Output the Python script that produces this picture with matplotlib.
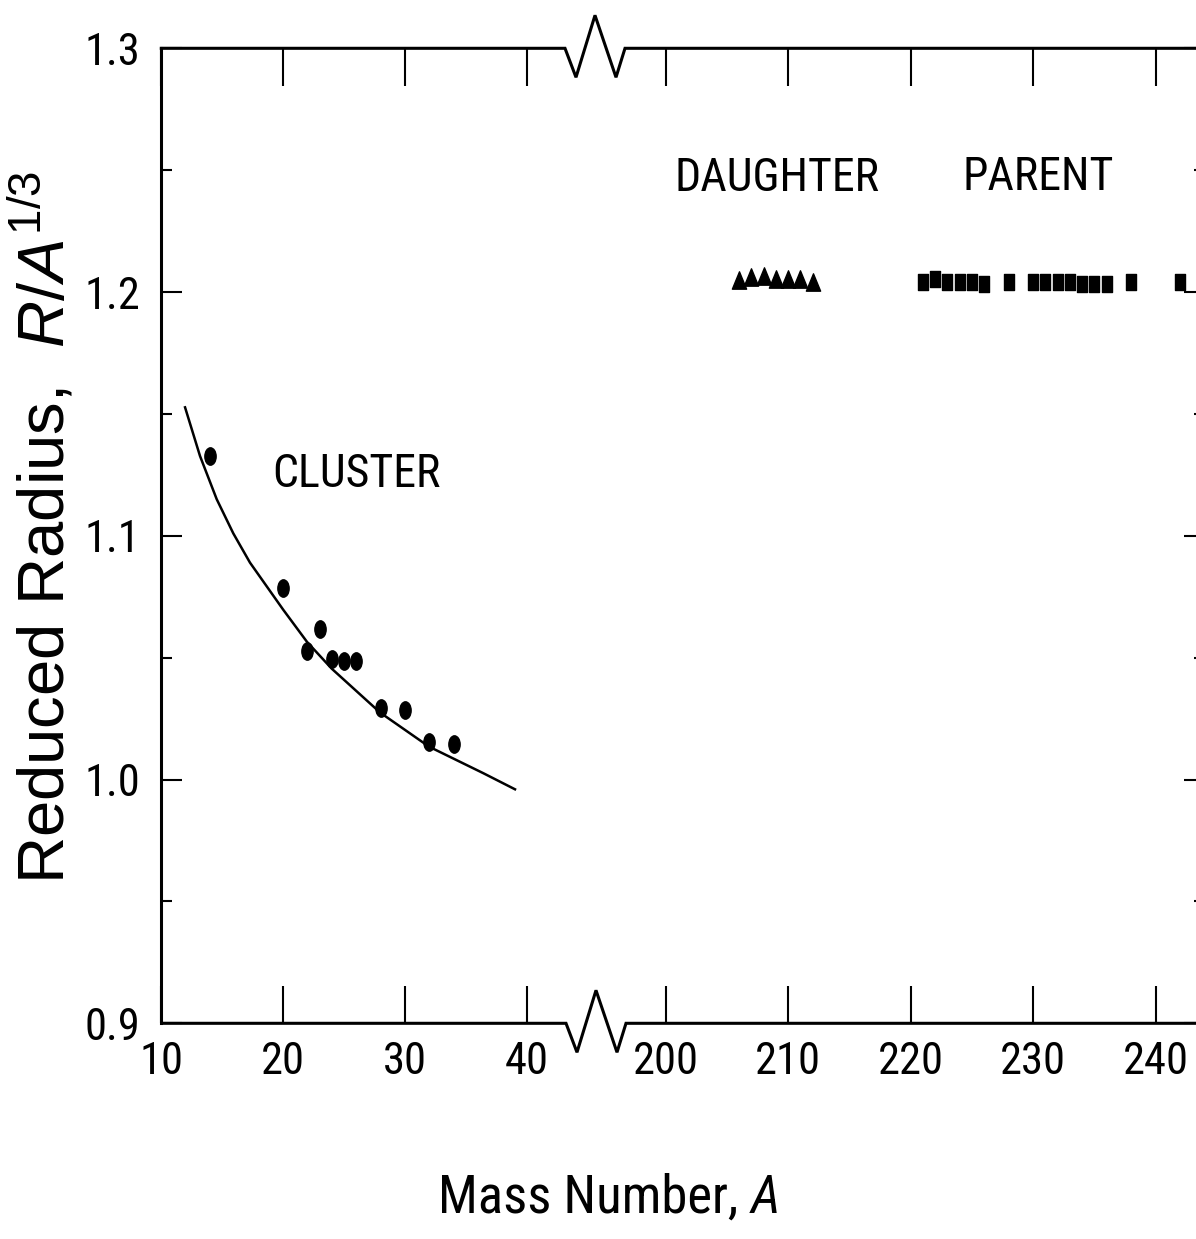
import matplotlib
matplotlib.use("Agg")
import matplotlib.pyplot as plt
from matplotlib import font_manager
from matplotlib.path import Path
from matplotlib.lines import Line2D
from matplotlib.ticker import MultipleLocator

# ---------------- data ----------------
cluster_A = [14, 20, 22, 23, 24, 25, 26, 28, 30, 32, 34]
cluster_r = [1.1327, 1.0785, 1.0529, 1.0616, 1.0493, 1.0488, 1.0488, 1.0292, 1.0285, 1.0155, 1.0146]

curve_A = [11.95, 13.18, 14.55, 15.91, 17.28, 20.02, 21.96, 23.99, 27.96, 31.98, 36.44, 39.04]
curve_r = [1.1527, 1.1327, 1.1150, 1.1010, 1.0890, 1.0696, 1.0565, 1.0455, 1.0275, 1.0135, 1.0026, 0.9960]

daughter_A = [206, 207, 208, 209, 210, 211, 212]
daughter_r = [1.2050, 1.2061, 1.2066, 1.2053, 1.2053, 1.2053, 1.2040]

parent_A = [221, 222, 223, 224, 225, 226, 228, 230, 231, 232, 233, 234, 235, 236, 238, 242]
parent_r = [1.2042, 1.2052, 1.2042, 1.2042, 1.2042, 1.2034, 1.2042, 1.2042, 1.2042, 1.2042,
            1.2042, 1.2034, 1.2034, 1.2034, 1.2042, 1.2042]

left_xticks = [10, 20, 30, 40]
right_xticks = [200, 210, 220, 230, 240]
yticks = [0.9, 1.0, 1.1, 1.2, 1.3]
ytick_labels = ["0.9", "1.0", "1.1", "1.2", "1.3"]

# ---------------- fonts ----------------
ttf = font_manager.fontManager.ttflist
installed = {f.name for f in ttf}
cond_stretch = ("condensed", "semi-condensed", "extra-condensed", "ultra-condensed")


def is_regular(f):
    return f.style == "normal" and str(f.weight) in ("400", "normal", "regular", "book")


def is_cond(f):
    return f.stretch in cond_stretch or "Narrow" in f.name or "Condensed" in f.name


narrow_fp = None
for pref in ("Liberation Sans Narrow", "Arial Narrow", "Roboto Condensed",
             "Open Sans Condensed", "DejaVu Sans Condensed", "Noto Sans Condensed",
             "DejaVu Sans"):
    for f in ttf:
        if f.name == pref and is_regular(f) and is_cond(f):
            narrow_fp = dict(family=f.name, stretch=f.stretch)
            break
    if narrow_fp:
        break
if narrow_fp is None:
    for f in ttf:
        if is_regular(f) and is_cond(f) and "Mono" not in f.name and "Serif" not in f.name:
            narrow_fp = dict(family=f.name, stretch=f.stretch)
            break

REG = "Liberation Sans" if "Liberation Sans" in installed else "DejaVu Sans"
if narrow_fp is None:
    narrow_fp = dict(family=REG, stretch="normal")

plt.rcParams["mathtext.fontset"] = "custom"
plt.rcParams["mathtext.rm"] = REG
plt.rcParams["mathtext.it"] = REG + ":italic"

W, H = 1196, 1239
fig = plt.figure(figsize=(W / 100, H / 100), dpi=100)


def fx(px):
    return px / W


def fy(py):
    return 1 - py / H


top_px, bot_px = 48.3, 1023.3
left_px, brk_px, right_px = 161.3, 595.0, 1205.0
sl, sr = 12.18, 12.25

axL = fig.add_axes([fx(left_px), fy(bot_px), fx(brk_px) - fx(left_px), fy(top_px) - fy(bot_px)])
axR = fig.add_axes([fx(brk_px), fy(bot_px), fx(right_px) - fx(brk_px), fy(top_px) - fy(bot_px)])

axL.set_xlim(10, 10 + (brk_px - left_px) / sl)
axR.set_xlim(200 - (665.5 - brk_px) / sr, 200 + (right_px - 665.5) / sr)
for ax in (axL, axR):
    ax.set_ylim(0.9, 1.3)
    ax.patch.set_visible(False)
    ax.spines["top"].set_visible(False)
    ax.spines["bottom"].set_visible(False)
    for s in ax.spines.values():
        s.set_linewidth(2.2)
axL.spines["right"].set_visible(False)
axR.spines["left"].set_visible(False)

tick_font = dict(family=narrow_fp["family"], stretch=narrow_fp["stretch"], size=32)

axL.set_xticks(left_xticks)
axL.set_xticklabels([str(t) for t in left_xticks], fontdict=tick_font)
axR.set_xticks(right_xticks)
axR.set_xticklabels([str(t) for t in right_xticks], fontdict=tick_font)
for ax in (axL, axR):
    ax.tick_params(axis="x", which="major", direction="in", top=True, bottom=True,
                   length=27, width=1.5, pad=13)

axL.set_yticks(yticks)
axL.set_yticklabels(ytick_labels, fontdict=tick_font)
axL.yaxis.set_minor_locator(MultipleLocator(0.05))
axL.tick_params(axis="y", which="major", direction="in", left=True, right=False,
                length=15, width=1.5, pad=15)
axL.tick_params(axis="y", which="minor", direction="in", left=True, right=False,
                length=8, width=1.5)

axR.set_yticks(yticks)
axR.yaxis.set_minor_locator(MultipleLocator(0.05))
axR.tick_params(axis="y", which="both", direction="in", left=False, right=True,
                labelleft=False, labelright=False, width=1.5)
axR.tick_params(axis="y", which="major", length=15)
axR.tick_params(axis="y", which="minor", length=8)

# ---------------- markers ----------------
circ = Path.unit_circle()
ellipse = Path(circ.vertices * [0.65, 1.0], circ.codes)
tri = Path([(0, 1), (-0.82, -1), (0.82, -1), (0, 1)],
           [Path.MOVETO, Path.LINETO, Path.LINETO, Path.CLOSEPOLY])
rect = Path([(-0.59, -1), (0.59, -1), (0.59, 1), (-0.59, 1), (-0.59, -1)],
            [Path.MOVETO, Path.LINETO, Path.LINETO, Path.LINETO, Path.CLOSEPOLY])

axL.plot(curve_A, curve_r, color="black", lw=1.8, solid_joinstyle="round")
axL.plot(cluster_A, cluster_r, linestyle="none", marker=ellipse, markersize=12.5,
         color="black")
axR.plot(daughter_A, daughter_r, linestyle="none", marker=tri, markersize=12.5,
         color="black")
axR.plot(parent_A, parent_r, linestyle="none", marker=rect, markersize=12.0,
         color="black")

ann_font = dict(family=narrow_fp["family"], stretch=narrow_fp["stretch"], size=33)
axL.text(26.04, 1.1254, "CLUSTER", ha="center", va="center", **ann_font)
axR.text(209.1, 1.2467, "DAUGHTER", ha="center", va="center", **ann_font)
axR.text(230.4, 1.2474, "PARENT", ha="center", va="center", **ann_font)


# ---------------- frame lines with break marks ----------------
def frame_line(y0, xs_off=0.0):
    zig_x = [left_px, 565, 576, 595, 616, 625, right_px]
    zig_dy = [0, 0, 29, -33, 29, 0, 0]
    xs = [fx(x + xs_off) for x in zig_x]
    ys = [fy(y0 + d) for d in zig_dy]
    fig.add_artist(Line2D(xs, ys, color="black", lw=2.2, solid_joinstyle="miter",
                          transform=fig.transFigure))


frame_line(top_px)
frame_line(bot_px, 1.0)

# ---------------- axis labels ----------------
xl_font = dict(family=narrow_fp["family"], stretch=narrow_fp["stretch"], size=38)
renderer = fig.canvas.get_renderer()
t1 = fig.text(0, fy(1213), "Mass Number, ", ha="left", va="baseline", **xl_font)
t2 = fig.text(0, fy(1213), "A", ha="left", va="baseline", style="italic", **xl_font)
w1 = t1.get_window_extent(renderer).width
w2 = t2.get_window_extent(renderer).width
x0 = 609 - (w1 + w2) / 2
t1.set_x(fx(x0))
t2.set_x(fx(x0 + w1))

fig.text(fx(42), fy(527), r"Reduced Radius,  $\mathit{R}$/$\mathit{A}^{1/3}$",
         family=REG, size=47, rotation=90, ha="center", va="center")

fig.savefig("out.png", dpi=100)
